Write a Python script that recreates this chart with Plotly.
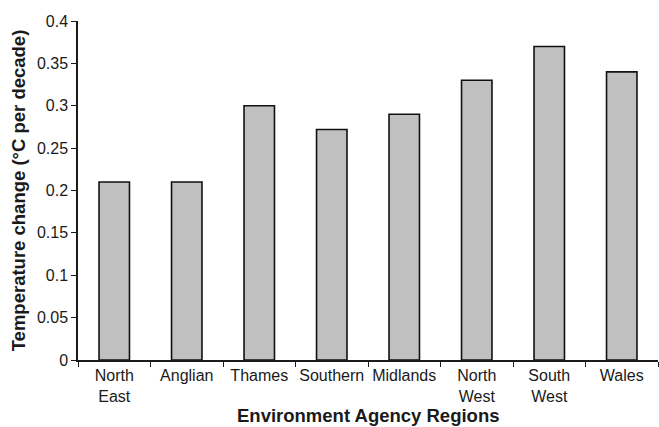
import plotly.graph_objects as go

regions = ["North<br>East", "Anglian", "Thames", "Southern", "Midlands",
           "North<br>West", "South<br>West", "Wales"]
temp_change = [0.21, 0.21, 0.30, 0.272, 0.29, 0.33, 0.37, 0.34]
y_ticks = [0, 0.05, 0.1, 0.15, 0.2, 0.25, 0.3, 0.35, 0.4]
y_tick_text = ["0", "0.05", "0.1", "0.15", "0.2", "0.25", "0.3", "0.35", "0.4"]

font_family = "Liberation Sans, Arial, sans-serif"

fig = go.Figure(
    go.Bar(
        x=regions,
        y=temp_change,
        width=0.42,
        marker=dict(color="#c0c0c0", line=dict(color="#111111", width=1.6)),
    )
)

fig.update_layout(
    width=659,
    height=427,
    margin=dict(l=78, r=1, t=21, b=67),
    paper_bgcolor="white",
    plot_bgcolor="white",
    font=dict(family=font_family, size=16, color="#1a1a1a"),
    showlegend=False,
)

fig.update_xaxes(
    type="category",
    tickson="boundaries",
    ticks="outside",
    ticklen=5,
    tickwidth=1.3,
    tickcolor="#1a1a1a",
    tickangle=0,
    automargin=False,
    showline=True,
    linecolor="#1a1a1a",
    linewidth=1.5,
    showgrid=False,
    tickfont=dict(size=16),
)

fig.update_yaxes(
    range=[0, 0.4],
    tickvals=y_ticks,
    ticktext=y_tick_text,
    ticks="outside",
    ticklen=5,
    tickwidth=1.3,
    tickcolor="#1a1a1a",
    automargin=False,
    showline=True,
    linecolor="#1a1a1a",
    linewidth=1.5,
    showgrid=False,
    zeroline=False,
    tickfont=dict(size=16),
    title=dict(text="<b>Temperature change (°C per decade)</b>",
               font=dict(size=18.5), standoff=6),
)

# x-axis title placed low, just under the category labels
fig.add_annotation(
    text="<b>Environment Agency Regions</b>",
    xref="paper", yref="paper",
    x=0.5, y=-0.163,
    xanchor="center", yanchor="middle",
    showarrow=False,
    font=dict(size=18.5, family=font_family, color="#1a1a1a"),
)

fig.write_html("out.html")
